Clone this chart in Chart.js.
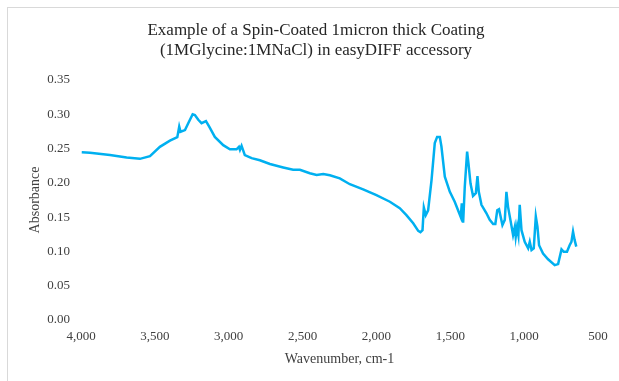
<!DOCTYPE html>
<html lang="en">
<head>
    <meta charset="UTF-8">
    <title>Spin-Coated Coating Spectrum</title>
    <script src="https://cdn.jsdelivr.net/npm/chart.js"></script>
    <style>
        html, body {
            margin: 0;
            padding: 0;
            background-color: white;
            overflow: hidden;
        }
        .frame {
            position: absolute;
            left: 7px;
            top: 7px;
            width: 640px;
            height: 400px;
            border: 1px solid #d9d9d9;
        }
        .chart-container {
            position: absolute;
            left: 0;
            top: 0;
            width: 619px;
            height: 381px;
        }
    </style>
</head>
<body>
    <div class="frame"></div>
    <div class="chart-container">
        <canvas id="spectrum"></canvas>
    </div>

    <script>
        // values
        const wavenumbers = [
            3995, 3939, 3804, 3691, 3601, 3533, 3466, 3398, 3348, 3335,
            3326, 3296, 3274, 3244, 3229, 3206, 3184, 3154, 3132, 3094,
            3037, 2992, 2947, 2931, 2924, 2913, 2891, 2845, 2789, 2721,
            2631, 2564, 2518, 2451, 2405, 2360, 2315, 2248, 2180, 2090,
            2000, 1909, 1842, 1797, 1751, 1717, 1702, 1688, 1679, 1666,
            1650, 1627, 1605, 1589, 1571, 1560, 1537, 1503, 1470, 1440,
            1429, 1422, 1413, 1402, 1386, 1377, 1363, 1346, 1327, 1316,
            1307, 1289, 1256, 1233, 1210, 1195, 1182, 1170, 1147, 1131,
            1120, 1109, 1093, 1075, 1063, 1057, 1048, 1039, 1030, 1018,
            996, 973, 962, 950, 935, 921, 910, 899, 872, 838,
            793, 770, 747, 732, 710, 692, 680, 669, 658, 647
        ];
        const absorbance = [
            0.2445, 0.244, 0.2405, 0.237, 0.235, 0.239, 0.2525, 0.2615, 0.2665, 0.282,
            0.2745, 0.277, 0.287, 0.300, 0.299, 0.292, 0.287, 0.290, 0.282, 0.267,
            0.255, 0.249, 0.249, 0.2525, 0.248, 0.254, 0.2405, 0.236, 0.233, 0.2275,
            0.2225, 0.219, 0.219, 0.214, 0.2115, 0.213, 0.211, 0.2065, 0.198, 0.1905,
            0.182, 0.1725, 0.163, 0.153, 0.141, 0.130, 0.128, 0.131, 0.164, 0.153,
            0.160, 0.204, 0.258, 0.267, 0.267, 0.253, 0.209, 0.187, 0.1725, 0.156,
            0.150, 0.170, 0.142, 0.194, 0.2455, 0.2285, 0.199, 0.181, 0.185, 0.210,
            0.187, 0.168, 0.156, 0.146, 0.140, 0.140, 0.160, 0.1615, 0.1385, 0.146,
            0.187, 0.165, 0.146, 0.124, 0.136, 0.1215, 0.136, 0.124, 0.168, 0.131,
            0.114, 0.1045, 0.114, 0.102, 0.1045, 0.151, 0.136, 0.109, 0.097, 0.0885,
            0.080, 0.0815, 0.103, 0.0995, 0.0995, 0.109, 0.114, 0.129, 0.1165, 0.107
        ];

        const titleLines = [
            'Example of a Spin-Coated 1micron thick Coating',
            '(1MGlycine:1MNaCl) in easyDIFF accessory'
        ];
        const xAxisTitle = 'Wavenumber, cm-1';
        const yAxisTitle = 'Absorbance';

        const serif = 'Liberation Serif, Times New Roman, serif';
        const textColor = '#404040';

        const points = wavenumbers.map((w, i) => ({ x: w, y: absorbance[i] }));

        const ctx = document.getElementById('spectrum').getContext('2d');
        new Chart(ctx, {
            type: 'line',
            data: {
                datasets: [{
                    data: points,
                    borderColor: '#00b0f0',
                    borderWidth: 2.5,
                    pointRadius: 0,
                    tension: 0,
                    fill: false
                }]
            },
            options: {
                responsive: true,
                maintainAspectRatio: false,
                animation: false,
                locale: 'en-US',
                layout: {
                    padding: { left: 34, right: 21, top: 0, bottom: 0 }
                },
                plugins: {
                    legend: { display: false },
                    tooltip: { enabled: false },
                    title: {
                        display: true,
                        text: titleLines,
                        color: '#262626',
                        font: { family: serif, size: 17, lineHeight: '20px', weight: 'normal' },
                        padding: { top: 21, bottom: 19 }
                    }
                },
                scales: {
                    x: {
                        type: 'linear',
                        reverse: true,
                        min: 500,
                        max: 4000,
                        afterFit: (scale) => { scale.height = 61; },
                        grid: { display: false, drawTicks: false },
                        border: { display: false },
                        ticks: {
                            stepSize: 500,
                            padding: 9,
                            color: textColor,
                            font: { family: serif, size: 13 },
                            maxRotation: 0
                        },
                        title: {
                            display: true,
                            text: xAxisTitle,
                            color: textColor,
                            font: { family: serif, size: 14 },
                            padding: { top: 0, bottom: 13 }
                        }
                    },
                    y: {
                        min: 0,
                        max: 0.35,
                        afterFit: (scale) => { scale.width = 47; },
                        grid: { display: false, drawTicks: false },
                        border: { display: false },
                        ticks: {
                            stepSize: 0.05,
                            padding: 11,
                            color: textColor,
                            font: { family: serif, size: 13 },
                            callback: (v) => v.toFixed(2)
                        },
                        title: {
                            display: true,
                            text: yAxisTitle,
                            color: textColor,
                            font: { family: serif, size: 14 },
                            padding: { top: -7, bottom: 0 }
                        }
                    }
                }
            }
        });
    </script>
</body>
</html>
